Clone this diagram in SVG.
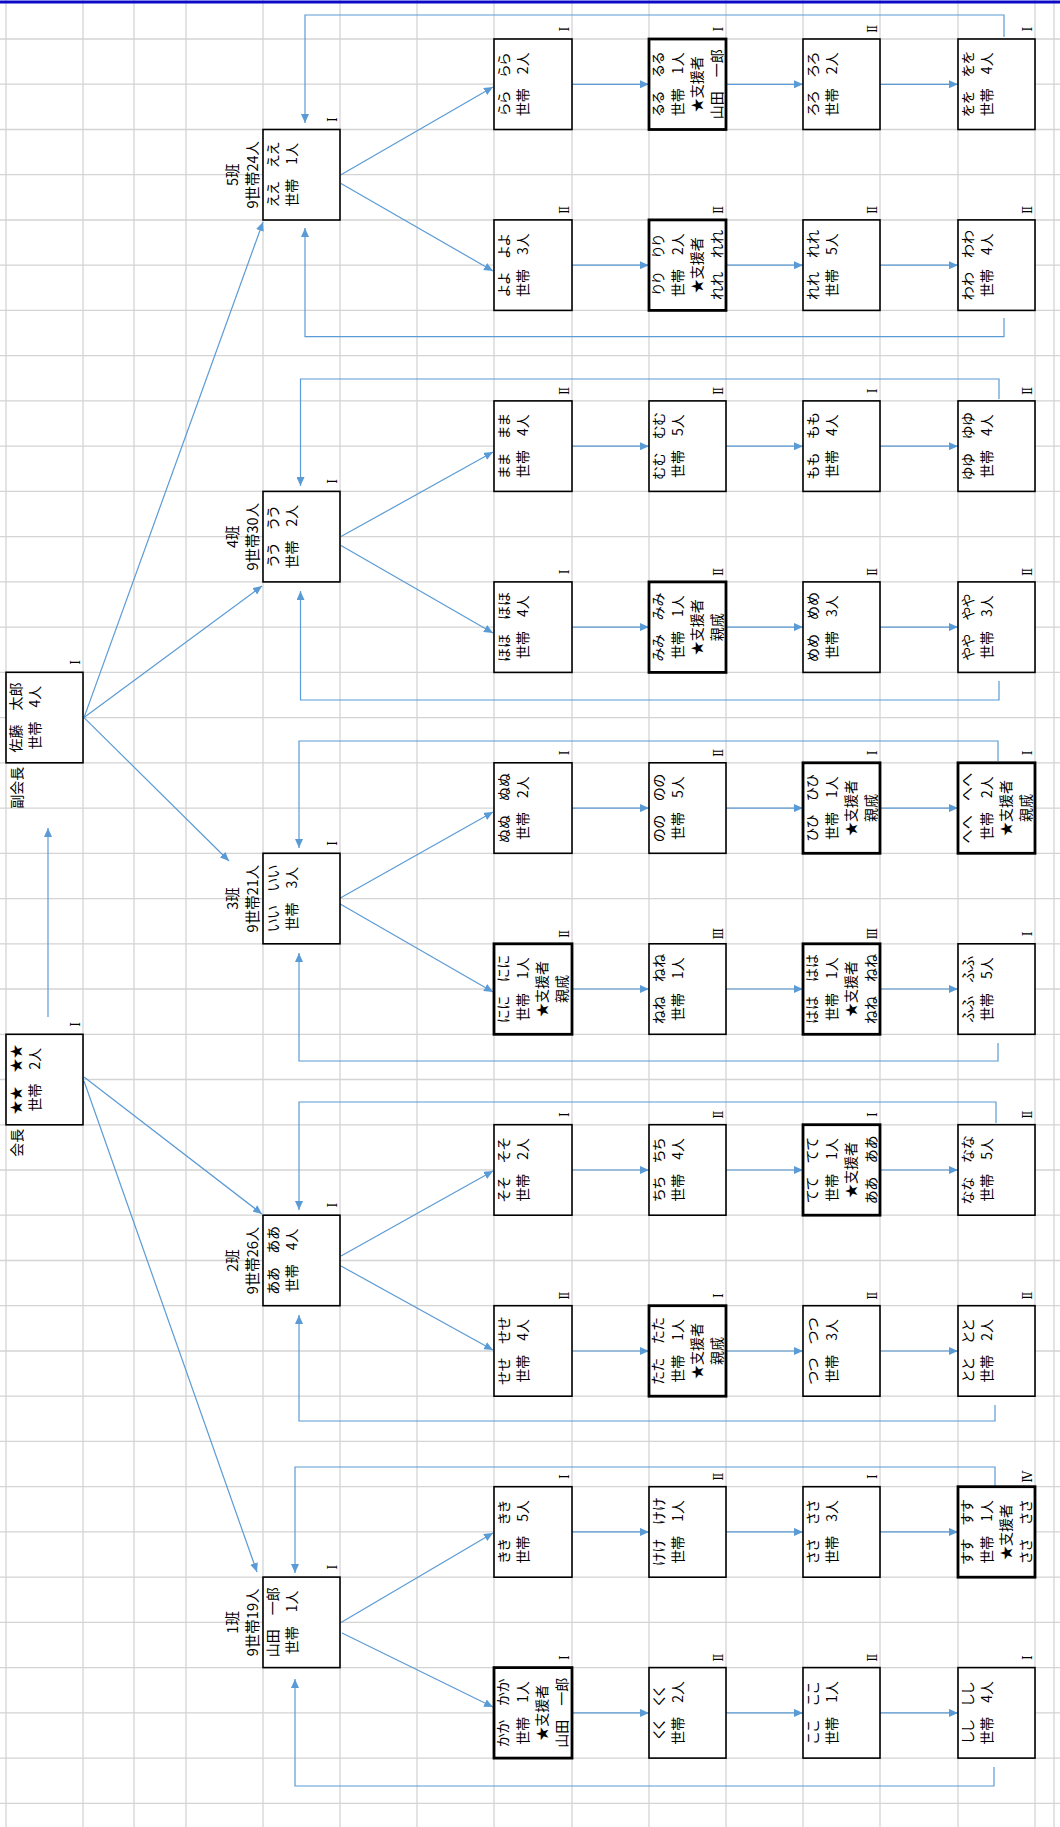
<svg xmlns="http://www.w3.org/2000/svg" width="1060" height="1827" viewBox="0 0 1060 1827">
<style>
.gl{stroke:#d4d4d4;stroke-width:1.3}
.bx{fill:#fff;stroke:#000;stroke-width:1.6}
.tk{stroke-width:2.8}
.tx{font-family:"Noto Sans CJK JP",sans-serif;font-size:14px;text-anchor:middle;fill:#000;font-feature-settings:"palt"}
.lb{font-family:"Noto Sans CJK JP",sans-serif;font-size:14.5px;text-anchor:middle;fill:#000}
.le{font-family:"Noto Sans CJK JP",sans-serif;font-size:14px;text-anchor:end;fill:#000}
.rn{font-family:"DejaVu Serif","Noto Sans CJK JP",serif;font-size:12px;text-anchor:middle;fill:#000}
.c{stroke:#5b9bd5;stroke-width:1.2;fill:none}
.a{marker-end:url(#ah)}
</style>
<defs>
<marker id="ah" markerUnits="userSpaceOnUse" markerWidth="9" markerHeight="8" refX="9" refY="4" orient="auto">
<path d="M0,0 L9,4 L0,8 z" fill="#5b9bd5"/>
</marker>
</defs>
<rect width="1060" height="1827" fill="#fff"/>
<g id="grid">
<path class="gl" d="M6,0V1827M83,0V1827M134,0V1827M186,0V1827M263,0V1827M340,0V1827M417,0V1827M494,0V1827M572,0V1827M649,0V1827M726,0V1827M803,0V1827M880,0V1827M958,0V1827M1035,0V1827M1054,0V1827"/>
<path class="gl" d="M0,39H1060M0,84.2H1060M0,129.5H1060M0,174.7H1060M0,220H1060M0,265.2H1060M0,310.4H1060M0,355.7H1060M0,400.9H1060M0,446.2H1060M0,491.4H1060M0,536.6H1060M0,581.9H1060M0,627.1H1060M0,672.4H1060M0,717.6H1060M0,762.8H1060M0,808.1H1060M0,853.3H1060M0,898.6H1060M0,943.8H1060M0,989H1060M0,1034.3H1060M0,1079.5H1060M0,1124.8H1060M0,1170H1060M0,1215.2H1060M0,1260.5H1060M0,1305.7H1060M0,1351H1060M0,1396.2H1060M0,1441.4H1060M0,1486.7H1060M0,1531.9H1060M0,1577.2H1060M0,1622.4H1060M0,1667.6H1060M0,1712.9H1060M0,1758.1H1060M0,1803.4H1060"/>
<rect x="0" y="0.5" width="1060" height="3" fill="#0a0ac8"/>
</g>

<g id="connectors">
<path class="c a" d="M48,1017V828"/>
<path class="c a" d="M84,717.6L263,222"/>
<path class="c a" d="M84,717.6L262,586"/>
<path class="c a" d="M84,717.6L229,861"/>
<path class="c a" d="M84,1077L262,1214"/>
<path class="c a" d="M84,1081L257,1572"/>

<path class="c a" d="M341,174.7L493,87"/>
<path class="c a" d="M341,183.5L493,271"/>
<path class="c a" d="M341,536.6L493,452"/>
<path class="c a" d="M341,545.5L493,633"/>
<path class="c a" d="M335,901L493,812"/>
<path class="c a" d="M335,901L493,992"/>
<path class="c a" d="M341,1256L493,1171"/>
<path class="c a" d="M341,1266L493,1350"/>
<path class="c a" d="M341,1622.4L493,1533"/>
<path class="c a" d="M342,1633L493,1707"/>

<path class="c a" d="M572,84.3H649"/><path class="c a" d="M726,84.3H803"/><path class="c a" d="M880,84.3H958"/>
<path class="c a" d="M572,265.2H649"/><path class="c a" d="M726,265.2H803"/><path class="c a" d="M880,265.2H958"/>
<path class="c a" d="M572,446.2H649"/><path class="c a" d="M726,446.2H803"/><path class="c a" d="M880,446.2H958"/>
<path class="c a" d="M572,627.1H649"/><path class="c a" d="M726,627.1H803"/><path class="c a" d="M880,627.1H958"/>
<path class="c a" d="M572,808.1H649"/><path class="c a" d="M726,808.1H803"/><path class="c a" d="M880,808.1H958"/>
<path class="c a" d="M572,989H649"/><path class="c a" d="M726,989H803"/><path class="c a" d="M880,989H958"/>
<path class="c a" d="M572,1170H649"/><path class="c a" d="M726,1170H803"/><path class="c a" d="M880,1170H958"/>
<path class="c a" d="M572,1351H649"/><path class="c a" d="M726,1351H803"/><path class="c a" d="M880,1351H958"/>
<path class="c a" d="M572,1531.9H649"/><path class="c a" d="M726,1531.9H803"/><path class="c a" d="M880,1531.9H958"/>
<path class="c a" d="M572,1712.9H649"/><path class="c a" d="M726,1712.9H803"/><path class="c a" d="M880,1712.9H958"/>

<path class="c a" d="M1004,37V15H305V123"/>
<path class="c a" d="M1004,318V336.6H305V228"/>
<path class="c a" d="M999,399V379H300.5V486"/>
<path class="c a" d="M999,681V700H300.5V591"/>
<path class="c a" d="M998,761V741H299V848"/>
<path class="c a" d="M998,1043V1061H299V953"/>
<path class="c a" d="M996,1123V1102H299V1210"/>
<path class="c a" d="M995,1405V1421H299V1315"/>
<path class="c a" d="M995,1486V1467H295V1573"/>
<path class="c a" d="M994,1767V1786H295V1679"/>
</g>

<g id="n-kaicho" transform="translate(6,1124.8) rotate(-90)">
<rect class="bx" width="90.5" height="77"/>
<text class="tx" x="45.25" y="15">★★　★★</text>
<text class="tx" x="45.25" y="34">世帯　2人</text>
<text class="le" x="-4" y="16">会長</text>
<text class="rn" x="100.5" y="74">Ⅰ</text>
</g>
<g id="n-fukukaicho" transform="translate(6,762.8) rotate(-90)">
<rect class="bx" width="90.5" height="77"/>
<text class="tx" x="45.25" y="15">佐藤　太郎</text>
<text class="tx" x="45.25" y="34">世帯　4人</text>
<text class="le" x="-4" y="16">副会長</text>
<text class="rn" x="100.5" y="74">Ⅰ</text>
</g>

<g id="n-ban5" transform="translate(263,220) rotate(-90)">
<rect class="bx" width="90.5" height="77"/>
<text class="tx" x="45.25" y="15">ええ　ええ</text>
<text class="tx" x="45.25" y="34">世帯　1人</text>
<text class="lb" x="45.25" y="-25">5班</text>
<text class="lb" x="45.25" y="-5">9世帯24人</text>
<text class="rn" x="100.5" y="74">Ⅰ</text>
</g>
<g id="n-ban4" transform="translate(263,581.9) rotate(-90)">
<rect class="bx" width="90.5" height="77"/>
<text class="tx" x="45.25" y="15">うう　うう</text>
<text class="tx" x="45.25" y="34">世帯　2人</text>
<text class="lb" x="45.25" y="-25">4班</text>
<text class="lb" x="45.25" y="-5">9世帯30人</text>
<text class="rn" x="100.5" y="74">Ⅰ</text>
</g>
<g id="n-ban3" transform="translate(263,943.8) rotate(-90)">
<rect class="bx" width="90.5" height="77"/>
<text class="tx" x="45.25" y="15">いい　いい</text>
<text class="tx" x="45.25" y="34">世帯　3人</text>
<text class="lb" x="45.25" y="-25">3班</text>
<text class="lb" x="45.25" y="-5">9世帯21人</text>
<text class="rn" x="100.5" y="74">Ⅰ</text>
</g>
<g id="n-ban2" transform="translate(263,1305.7) rotate(-90)">
<rect class="bx" width="90.5" height="77"/>
<text class="tx" x="45.25" y="15">ああ　ああ</text>
<text class="tx" x="45.25" y="34">世帯　4人</text>
<text class="lb" x="45.25" y="-25">2班</text>
<text class="lb" x="45.25" y="-5">9世帯26人</text>
<text class="rn" x="100.5" y="74">Ⅰ</text>
</g>
<g id="n-ban1" transform="translate(263,1667.6) rotate(-90)">
<rect class="bx" width="90.5" height="77"/>
<text class="tx" x="45.25" y="15">山田　一郎</text>
<text class="tx" x="45.25" y="34">世帯　1人</text>
<text class="lb" x="45.25" y="-25">1班</text>
<text class="lb" x="45.25" y="-5">9世帯19人</text>
<text class="rn" x="100.5" y="74">Ⅰ</text>
</g>

<!-- 5班 group -->
<g id="n-rara" transform="translate(494,129.5) rotate(-90)"><rect class="bx" width="90.5" height="78"/><text class="tx" x="45.25" y="15">らら　らら</text><text class="tx" x="45.25" y="34">世帯　2人</text><text class="rn" x="100.5" y="75">Ⅰ</text></g>
<g id="n-ruru" transform="translate(649,129.5) rotate(-90)"><rect class="bx tk" width="90.5" height="77"/><text class="tx" x="45.25" y="14">るる　るる</text><text class="tx" x="45.25" y="33.5">世帯　1人</text><text class="tx" x="45.25" y="53">★支援者</text><text class="tx" x="45.25" y="72.5">山田　一郎</text><text class="rn" x="100.5" y="74">Ⅰ</text></g>
<g id="n-roro" transform="translate(803,129.5) rotate(-90)"><rect class="bx" width="90.5" height="77"/><text class="tx" x="45.25" y="15">ろろ　ろろ</text><text class="tx" x="45.25" y="34">世帯　2人</text><text class="rn" x="100.5" y="74">Ⅱ</text></g>
<g id="n-wowo" transform="translate(958,129.5) rotate(-90)"><rect class="bx" width="90.5" height="77"/><text class="tx" x="45.25" y="15">をを　をを</text><text class="tx" x="45.25" y="34">世帯　4人</text><text class="rn" x="100.5" y="74">Ⅰ</text></g>
<g id="n-yoyo" transform="translate(494,310.4) rotate(-90)"><rect class="bx" width="90.5" height="78"/><text class="tx" x="45.25" y="15">よよ　よよ</text><text class="tx" x="45.25" y="34">世帯　3人</text><text class="rn" x="100.5" y="75">Ⅱ</text></g>
<g id="n-riri" transform="translate(649,310.4) rotate(-90)"><rect class="bx tk" width="90.5" height="77"/><text class="tx" x="45.25" y="14">りり　りり</text><text class="tx" x="45.25" y="33.5">世帯　2人</text><text class="tx" x="45.25" y="53">★支援者</text><text class="tx" x="45.25" y="72.5">れれ　れれ</text><text class="rn" x="100.5" y="74">Ⅱ</text></g>
<g id="n-rere" transform="translate(803,310.4) rotate(-90)"><rect class="bx" width="90.5" height="77"/><text class="tx" x="45.25" y="15">れれ　れれ</text><text class="tx" x="45.25" y="34">世帯　5人</text><text class="rn" x="100.5" y="74">Ⅱ</text></g>
<g id="n-wawa" transform="translate(958,310.4) rotate(-90)"><rect class="bx" width="90.5" height="77"/><text class="tx" x="45.25" y="15">わわ　わわ</text><text class="tx" x="45.25" y="34">世帯　4人</text><text class="rn" x="100.5" y="74">Ⅱ</text></g>

<!-- 4班 group -->
<g id="n-mama" transform="translate(494,491.4) rotate(-90)"><rect class="bx" width="90.5" height="78"/><text class="tx" x="45.25" y="15">まま　まま</text><text class="tx" x="45.25" y="34">世帯　4人</text><text class="rn" x="100.5" y="75">Ⅱ</text></g>
<g id="n-mumu" transform="translate(649,491.4) rotate(-90)"><rect class="bx" width="90.5" height="77"/><text class="tx" x="45.25" y="15">むむ　むむ</text><text class="tx" x="45.25" y="34">世帯　5人</text><text class="rn" x="100.5" y="74">Ⅱ</text></g>
<g id="n-momo" transform="translate(803,491.4) rotate(-90)"><rect class="bx" width="90.5" height="77"/><text class="tx" x="45.25" y="15">もも　もも</text><text class="tx" x="45.25" y="34">世帯　4人</text><text class="rn" x="100.5" y="74">Ⅰ</text></g>
<g id="n-yuyu" transform="translate(958,491.4) rotate(-90)"><rect class="bx" width="90.5" height="77"/><text class="tx" x="45.25" y="15">ゆゆ　ゆゆ</text><text class="tx" x="45.25" y="34">世帯　4人</text><text class="rn" x="100.5" y="74">Ⅱ</text></g>
<g id="n-hoho" transform="translate(494,672.4) rotate(-90)"><rect class="bx" width="90.5" height="78"/><text class="tx" x="45.25" y="15">ほほ　ほほ</text><text class="tx" x="45.25" y="34">世帯　4人</text><text class="rn" x="100.5" y="75">Ⅰ</text></g>
<g id="n-mimi" transform="translate(649,672.4) rotate(-90)"><rect class="bx tk" width="90.5" height="77"/><text class="tx" x="45.25" y="14">みみ　みみ</text><text class="tx" x="45.25" y="33.5">世帯　1人</text><text class="tx" x="45.25" y="53">★支援者</text><text class="tx" x="45.25" y="72.5">親戚</text><text class="rn" x="100.5" y="74">Ⅱ</text></g>
<g id="n-meme" transform="translate(803,672.4) rotate(-90)"><rect class="bx" width="90.5" height="77"/><text class="tx" x="45.25" y="15">めめ　めめ</text><text class="tx" x="45.25" y="34">世帯　3人</text><text class="rn" x="100.5" y="74">Ⅱ</text></g>
<g id="n-yaya" transform="translate(958,672.4) rotate(-90)"><rect class="bx" width="90.5" height="77"/><text class="tx" x="45.25" y="15">やや　やや</text><text class="tx" x="45.25" y="34">世帯　3人</text><text class="rn" x="100.5" y="74">Ⅱ</text></g>

<!-- 3班 group -->
<g id="n-nunu" transform="translate(494,853.3) rotate(-90)"><rect class="bx" width="90.5" height="78"/><text class="tx" x="45.25" y="15">ぬぬ　ぬぬ</text><text class="tx" x="45.25" y="34">世帯　2人</text><text class="rn" x="100.5" y="75">Ⅰ</text></g>
<g id="n-nono" transform="translate(649,853.3) rotate(-90)"><rect class="bx" width="90.5" height="77"/><text class="tx" x="45.25" y="15">のの　のの</text><text class="tx" x="45.25" y="34">世帯　5人</text><text class="rn" x="100.5" y="74">Ⅱ</text></g>
<g id="n-hihi" transform="translate(803,853.3) rotate(-90)"><rect class="bx tk" width="90.5" height="77"/><text class="tx" x="45.25" y="14">ひひ　ひひ</text><text class="tx" x="45.25" y="33.5">世帯　1人</text><text class="tx" x="45.25" y="53">★支援者</text><text class="tx" x="45.25" y="72.5">親戚</text><text class="rn" x="100.5" y="74">Ⅰ</text></g>
<g id="n-hehe" transform="translate(958,853.3) rotate(-90)"><rect class="bx tk" width="90.5" height="77"/><text class="tx" x="45.25" y="14">へへ　へへ</text><text class="tx" x="45.25" y="33.5">世帯　2人</text><text class="tx" x="45.25" y="53">★支援者</text><text class="tx" x="45.25" y="72.5">親戚</text><text class="rn" x="100.5" y="74">Ⅰ</text></g>
<g id="n-nini" transform="translate(494,1034.3) rotate(-90)"><rect class="bx tk" width="90.5" height="78"/><text class="tx" x="45.25" y="14">にに　にに</text><text class="tx" x="45.25" y="33.5">世帯　1人</text><text class="tx" x="45.25" y="53">★支援者</text><text class="tx" x="45.25" y="72.5">親戚</text><text class="rn" x="100.5" y="75">Ⅱ</text></g>
<g id="n-nene" transform="translate(649,1034.3) rotate(-90)"><rect class="bx" width="90.5" height="77"/><text class="tx" x="45.25" y="15">ねね　ねね</text><text class="tx" x="45.25" y="34">世帯　1人</text><text class="rn" x="100.5" y="74">Ⅲ</text></g>
<g id="n-haha" transform="translate(803,1034.3) rotate(-90)"><rect class="bx tk" width="90.5" height="77"/><text class="tx" x="45.25" y="14">はは　はは</text><text class="tx" x="45.25" y="33.5">世帯　1人</text><text class="tx" x="45.25" y="53">★支援者</text><text class="tx" x="45.25" y="72.5">ねね　ねね</text><text class="rn" x="100.5" y="74">Ⅲ</text></g>
<g id="n-fufu" transform="translate(958,1034.3) rotate(-90)"><rect class="bx" width="90.5" height="77"/><text class="tx" x="45.25" y="15">ふふ　ふふ</text><text class="tx" x="45.25" y="34">世帯　5人</text><text class="rn" x="100.5" y="74">Ⅰ</text></g>

<!-- 2班 group -->
<g id="n-soso" transform="translate(494,1215.2) rotate(-90)"><rect class="bx" width="90.5" height="78"/><text class="tx" x="45.25" y="15">そそ　そそ</text><text class="tx" x="45.25" y="34">世帯　2人</text><text class="rn" x="100.5" y="75">Ⅰ</text></g>
<g id="n-chichi" transform="translate(649,1215.2) rotate(-90)"><rect class="bx" width="90.5" height="77"/><text class="tx" x="45.25" y="15">ちち　ちち</text><text class="tx" x="45.25" y="34">世帯　4人</text><text class="rn" x="100.5" y="74">Ⅱ</text></g>
<g id="n-tete" transform="translate(803,1215.2) rotate(-90)"><rect class="bx tk" width="90.5" height="77"/><text class="tx" x="45.25" y="14">てて　てて</text><text class="tx" x="45.25" y="33.5">世帯　1人</text><text class="tx" x="45.25" y="53">★支援者</text><text class="tx" x="45.25" y="72.5">ああ　ああ</text><text class="rn" x="100.5" y="74">Ⅰ</text></g>
<g id="n-nana" transform="translate(958,1215.2) rotate(-90)"><rect class="bx" width="90.5" height="77"/><text class="tx" x="45.25" y="15">なな　なな</text><text class="tx" x="45.25" y="34">世帯　5人</text><text class="rn" x="100.5" y="74">Ⅱ</text></g>
<g id="n-sese" transform="translate(494,1396.2) rotate(-90)"><rect class="bx" width="90.5" height="78"/><text class="tx" x="45.25" y="15">せせ　せせ</text><text class="tx" x="45.25" y="34">世帯　4人</text><text class="rn" x="100.5" y="75">Ⅱ</text></g>
<g id="n-tata" transform="translate(649,1396.2) rotate(-90)"><rect class="bx tk" width="90.5" height="77"/><text class="tx" x="45.25" y="14">たた　たた</text><text class="tx" x="45.25" y="33.5">世帯　1人</text><text class="tx" x="45.25" y="53">★支援者</text><text class="tx" x="45.25" y="72.5">親戚</text><text class="rn" x="100.5" y="74">Ⅰ</text></g>
<g id="n-tsutsu" transform="translate(803,1396.2) rotate(-90)"><rect class="bx" width="90.5" height="77"/><text class="tx" x="45.25" y="15">つつ　つつ</text><text class="tx" x="45.25" y="34">世帯　3人</text><text class="rn" x="100.5" y="74">Ⅱ</text></g>
<g id="n-toto" transform="translate(958,1396.2) rotate(-90)"><rect class="bx" width="90.5" height="77"/><text class="tx" x="45.25" y="15">とと　とと</text><text class="tx" x="45.25" y="34">世帯　2人</text><text class="rn" x="100.5" y="74">Ⅱ</text></g>

<!-- 1班 group -->
<g id="n-kiki" transform="translate(494,1577.2) rotate(-90)"><rect class="bx" width="90.5" height="78"/><text class="tx" x="45.25" y="15">きき　きき</text><text class="tx" x="45.25" y="34">世帯　5人</text><text class="rn" x="100.5" y="75">Ⅰ</text></g>
<g id="n-keke" transform="translate(649,1577.2) rotate(-90)"><rect class="bx" width="90.5" height="77"/><text class="tx" x="45.25" y="15">けけ　けけ</text><text class="tx" x="45.25" y="34">世帯　1人</text><text class="rn" x="100.5" y="74">Ⅱ</text></g>
<g id="n-sasa" transform="translate(803,1577.2) rotate(-90)"><rect class="bx" width="90.5" height="77"/><text class="tx" x="45.25" y="15">ささ　ささ</text><text class="tx" x="45.25" y="34">世帯　3人</text><text class="rn" x="100.5" y="74">Ⅰ</text></g>
<g id="n-susu" transform="translate(958,1577.2) rotate(-90)"><rect class="bx tk" width="90.5" height="77"/><text class="tx" x="45.25" y="14">すす　すす</text><text class="tx" x="45.25" y="33.5">世帯　1人</text><text class="tx" x="45.25" y="53">★支援者</text><text class="tx" x="45.25" y="72.5">ささ　ささ</text><text class="rn" x="100.5" y="74">Ⅳ</text></g>
<g id="n-kaka" transform="translate(494,1758.1) rotate(-90)"><rect class="bx tk" width="90.5" height="78"/><text class="tx" x="45.25" y="14">かか　かか</text><text class="tx" x="45.25" y="33.5">世帯　1人</text><text class="tx" x="45.25" y="53">★支援者</text><text class="tx" x="45.25" y="72.5">山田　一郎</text><text class="rn" x="100.5" y="75">Ⅰ</text></g>
<g id="n-kuku" transform="translate(649,1758.1) rotate(-90)"><rect class="bx" width="90.5" height="77"/><text class="tx" x="45.25" y="15">くく　くく</text><text class="tx" x="45.25" y="34">世帯　2人</text><text class="rn" x="100.5" y="74">Ⅱ</text></g>
<g id="n-koko" transform="translate(803,1758.1) rotate(-90)"><rect class="bx" width="90.5" height="77"/><text class="tx" x="45.25" y="15">ここ　ここ</text><text class="tx" x="45.25" y="34">世帯　1人</text><text class="rn" x="100.5" y="74">Ⅱ</text></g>
<g id="n-shishi" transform="translate(958,1758.1) rotate(-90)"><rect class="bx" width="90.5" height="77"/><text class="tx" x="45.25" y="15">しし　しし</text><text class="tx" x="45.25" y="34">世帯　4人</text><text class="rn" x="100.5" y="74">Ⅰ</text></g>
</svg>
